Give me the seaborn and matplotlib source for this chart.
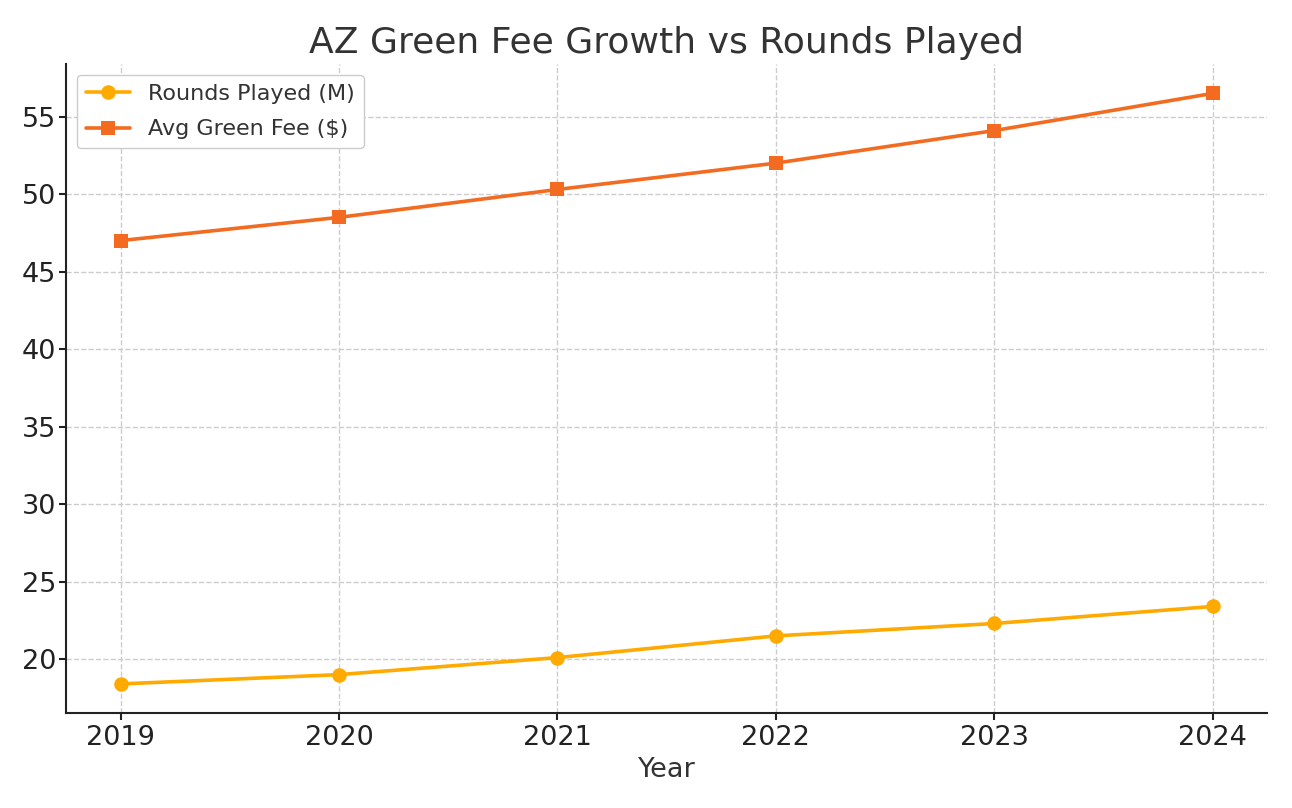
import matplotlib
matplotlib.use("Agg")
import matplotlib.pyplot as plt
import seaborn as sns
import pandas as pd

years = [2019, 2020, 2021, 2022, 2023, 2024]
rounds_played = [18.4, 19.0, 20.1, 21.5, 22.3, 23.4]
green_fee = [47.0, 48.5, 50.3, 52.0, 54.1, 56.5]

df = pd.DataFrame({
    "Year": years + years,
    "Value": rounds_played + green_fee,
    "Series": ["Rounds Played (M)"] * 6 + ["Avg Green Fee ($)"] * 6,
})

sns.set_style("ticks")
plt.rcParams["font.family"] = ["DejaVu Sans"]

fig, ax = plt.subplots(figsize=(12.92, 8.08), dpi=100)
fig.subplots_adjust(left=0.051, right=0.981, top=0.921, bottom=0.117)

sns.lineplot(
    data=df, x="Year", y="Value", hue="Series", style="Series",
    markers={"Rounds Played (M)": "o", "Avg Green Fee ($)": "s"},
    dashes=False,
    palette={"Rounds Played (M)": "#FFAA00", "Avg Green Fee ($)": "#F26B21"},
    linewidth=2.6, markersize=10.5, markeredgewidth=0, ax=ax,
)

ax.grid(True, linestyle="--", color="#cccccc", linewidth=1)
ax.set_axisbelow(True)
sns.despine(ax=ax)
for s in ["left", "bottom"]:
    ax.spines[s].set_color("#222222")
    ax.spines[s].set_linewidth(1.5)

ax.set_xticks(years)
ax.tick_params(axis="both", labelsize=19.5, colors="#222222", length=5, width=1.5)
ax.tick_params(axis="y", pad=2)
ax.set_xlabel("Year", fontsize=19.5, color="#333333")
ax.set_ylabel("")
ax.set_title("AZ Green Fee Growth vs Rounds Played", fontsize=26, color="#333333", pad=8)

leg = ax.legend(loc="upper left", fontsize=16, frameon=True, framealpha=1,
                labelspacing=0.7)
leg.get_frame().set_edgecolor("#cccccc")
for t in leg.get_texts():
    t.set_color("#333333")

fig.savefig("out.png", dpi=100)
